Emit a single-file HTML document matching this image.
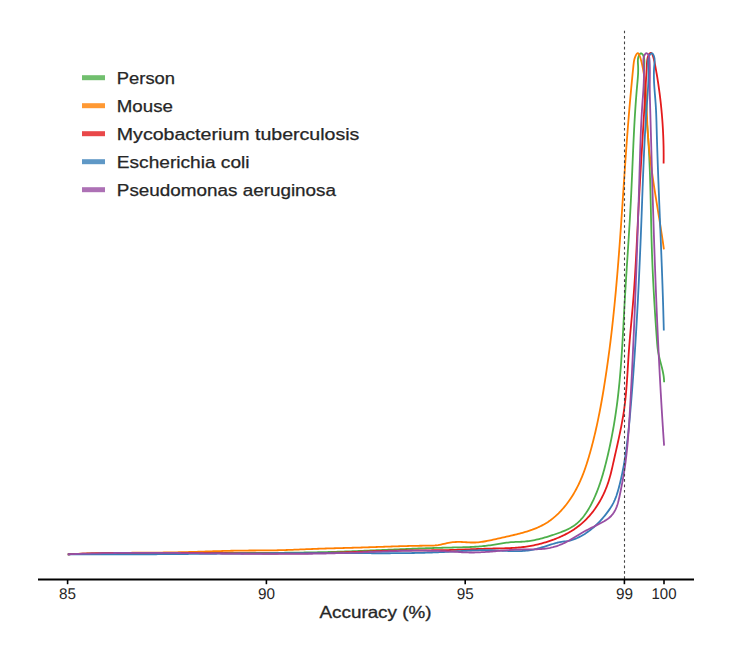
<!DOCTYPE html>
<html><head><meta charset="utf-8"><style>
html,body{margin:0;padding:0;background:#fff;}
body{width:738px;height:646px;overflow:hidden;}
svg{display:block;}
.lg{font-family:"Liberation Sans",sans-serif;font-size:16px;fill:#262626;stroke:#262626;stroke-width:0.25px;}
.tk{text-rendering:geometricPrecision;font-family:"Liberation Sans",sans-serif;font-size:15.5px;fill:#262626;}
.ax{font-family:"Liberation Sans",sans-serif;font-size:16.5px;fill:#262626;stroke:#262626;stroke-width:0.3px;}
</style></head><body>
<svg width="738" height="646" viewBox="0 0 738 646">
<g fill="none" stroke-width="1.8" stroke-linejoin="round" stroke-linecap="butt">
<path d="M67.80 554.30 L69.30 554.25 L70.79 554.20 L72.28 554.16 L73.78 554.11 L75.27 554.07 L76.77 554.03 L78.26 553.99 L79.76 553.94 L81.25 553.90 L82.75 553.87 L84.24 553.83 L85.74 553.79 L87.23 553.76 L88.73 553.72 L90.22 553.69 L91.72 553.65 L93.21 553.62 L94.71 553.59 L96.20 553.56 L97.70 553.53 L99.20 553.50 L100.69 553.48 L102.19 553.45 L103.68 553.42 L105.18 553.40 L106.68 553.37 L108.17 553.35 L109.67 553.33 L111.16 553.31 L112.66 553.29 L114.16 553.26 L115.65 553.25 L117.15 553.23 L118.65 553.21 L120.15 553.19 L121.64 553.17 L123.14 553.16 L124.64 553.14 L126.13 553.13 L127.63 553.11 L129.13 553.10 L130.63 553.09 L132.12 553.08 L133.62 553.06 L135.12 553.05 L136.62 553.04 L138.11 553.03 L139.61 553.02 L141.11 553.01 L142.61 553.01 L144.10 553.00 L145.60 552.99 L147.10 552.98 L148.60 552.98 L150.10 552.97 L151.59 552.97 L153.09 552.96 L154.59 552.96 L156.09 552.95 L157.59 552.95 L159.09 552.94 L160.58 552.94 L162.08 552.94 L163.58 552.94 L165.08 552.93 L166.58 552.93 L168.08 552.93 L169.58 552.93 L171.08 552.93 L172.57 552.93 L174.07 552.93 L175.57 552.93 L177.07 552.93 L178.57 552.93 L180.07 552.93 L181.57 552.93 L183.07 552.93 L184.57 552.93 L186.07 552.93 L187.56 552.94 L189.06 552.94 L190.56 552.94 L192.06 552.94 L193.56 552.94 L195.06 552.94 L196.56 552.95 L198.06 552.95 L199.56 552.95 L201.06 552.95 L202.56 552.96 L204.06 552.96 L205.56 552.96 L207.06 552.96 L208.56 552.97 L210.06 552.97 L211.56 552.97 L213.06 552.97 L214.56 552.97 L216.06 552.98 L217.56 552.98 L219.06 552.98 L220.56 552.98 L222.06 552.98 L223.56 552.99 L225.06 552.99 L226.55 552.99 L228.05 552.99 L229.55 552.99 L231.05 552.99 L232.55 552.99 L234.05 552.99 L235.55 552.99 L237.05 552.99 L238.55 552.99 L240.05 552.99 L241.55 552.99 L243.05 552.99 L244.55 552.98 L246.05 552.98 L247.55 552.98 L249.05 552.98 L250.55 552.97 L252.05 552.97 L253.55 552.97 L255.05 552.96 L256.55 552.96 L258.05 552.95 L259.55 552.95 L261.05 552.94 L262.55 552.93 L264.06 552.93 L265.56 552.92 L267.06 552.91 L268.56 552.90 L270.06 552.89 L271.56 552.88 L273.06 552.87 L274.56 552.86 L276.06 552.85 L277.55 552.84 L279.05 552.83 L280.55 552.81 L282.05 552.80 L283.55 552.79 L285.05 552.77 L286.55 552.76 L288.05 552.74 L289.55 552.72 L291.05 552.70 L292.55 552.69 L294.05 552.67 L295.55 552.65 L297.05 552.63 L298.55 552.61 L300.05 552.58 L301.55 552.56 L303.05 552.54 L304.55 552.51 L306.05 552.49 L307.55 552.46 L309.05 552.43 L310.55 552.41 L312.05 552.38 L313.55 552.35 L315.05 552.32 L316.55 552.29 L318.05 552.25 L319.55 552.22 L321.05 552.19 L322.55 552.15 L324.04 552.12 L325.54 552.08 L327.04 552.04 L328.54 552.00 L330.04 551.96 L331.54 551.92 L333.04 551.88 L334.54 551.83 L336.04 551.79 L337.54 551.74 L339.04 551.70 L340.53 551.65 L342.03 551.60 L343.53 551.55 L345.03 551.50 L346.53 551.45 L348.03 551.40 L349.53 551.34 L351.02 551.29 L352.52 551.23 L354.02 551.18 L355.52 551.12 L357.02 551.06 L358.52 551.01 L360.01 550.95 L361.51 550.89 L363.01 550.83 L364.51 550.77 L366.01 550.71 L367.50 550.64 L369.00 550.58 L370.50 550.52 L372.00 550.46 L373.50 550.39 L374.99 550.33 L376.49 550.26 L377.99 550.20 L379.49 550.14 L380.98 550.07 L382.48 550.01 L383.98 549.94 L385.48 549.88 L386.97 549.81 L388.47 549.75 L389.97 549.68 L391.46 549.62 L392.96 549.56 L394.46 549.49 L395.95 549.43 L397.45 549.36 L398.95 549.30 L400.44 549.24 L401.94 549.17 L403.44 549.11 L404.93 549.05 L406.43 548.99 L407.92 548.93 L409.42 548.87 L410.92 548.81 L412.41 548.75 L413.91 548.69 L415.40 548.63 L416.90 548.57 L418.40 548.52 L419.89 548.46 L421.39 548.41 L422.88 548.35 L424.38 548.30 L425.87 548.25 L427.37 548.19 L428.86 548.14 L430.36 548.09 L431.85 548.05 L433.35 548.00 L434.84 547.95 L436.34 547.91 L437.83 547.86 L439.32 547.82 L440.82 547.78 L442.31 547.74 L443.81 547.70 L445.30 547.67 L446.79 547.63 L448.29 547.60 L449.78 547.56 L451.28 547.53 L452.77 547.50 L454.26 547.47 L455.76 547.44 L457.25 547.41 L458.74 547.38 L460.23 547.35 L461.73 547.31 L463.22 547.27 L464.71 547.22 L466.21 547.17 L467.70 547.12 L469.19 547.06 L470.68 546.99 L472.17 546.92 L473.67 546.84 L475.16 546.75 L476.65 546.65 L478.14 546.55 L479.63 546.43 L481.12 546.30 L482.62 546.16 L484.11 546.01 L485.60 545.84 L487.09 545.66 L488.58 545.47 L490.07 545.27 L491.56 545.05 L493.05 544.81 L494.54 544.57 L496.03 544.33 L497.52 544.08 L499.01 543.83 L500.50 543.58 L501.99 543.35 L503.48 543.12 L504.97 542.90 L506.46 542.70 L507.95 542.52 L509.44 542.36 L510.93 542.22 L512.42 542.11 L513.91 542.03 L515.39 541.97 L516.88 541.92 L518.37 541.87 L519.86 541.82 L521.35 541.76 L522.83 541.67 L524.32 541.56 L525.81 541.42 L527.30 541.25 L528.78 541.05 L530.27 540.83 L531.75 540.58 L533.23 540.31 L534.71 540.02 L536.19 539.71 L537.67 539.37 L539.14 539.02 L540.61 538.65 L542.08 538.27 L543.55 537.87 L545.01 537.46 L546.47 537.03 L547.92 536.59 L549.38 536.14 L550.82 535.68 L552.27 535.21 L553.70 534.74 L555.14 534.26 L556.56 533.77 L557.98 533.27 L559.40 532.77 L560.80 532.25 L562.19 531.71 L563.56 531.16 L564.92 530.58 L566.27 529.98 L567.59 529.36 L568.89 528.70 L570.17 528.02 L571.43 527.30 L572.66 526.54 L573.87 525.74 L575.04 524.90 L576.19 524.02 L577.30 523.09 L578.38 522.12 L579.43 521.11 L580.46 520.06 L581.45 518.97 L582.42 517.85 L583.36 516.70 L584.28 515.52 L585.16 514.31 L586.03 513.08 L586.87 511.82 L587.69 510.54 L588.48 509.24 L589.25 507.92 L590.00 506.59 L590.73 505.24 L591.44 503.88 L592.13 502.52 L592.81 501.14 L593.46 499.76 L594.10 498.38 L594.72 497.00 L595.33 495.61 L595.92 494.22 L596.49 492.82 L597.05 491.43 L597.60 490.03 L598.13 488.62 L598.65 487.22 L599.15 485.81 L599.65 484.40 L600.13 482.99 L600.60 481.57 L601.06 480.15 L601.51 478.73 L601.95 477.31 L602.38 475.88 L602.80 474.45 L603.21 473.02 L603.62 471.59 L604.02 470.15 L604.41 468.72 L604.79 467.28 L605.17 465.83 L605.54 464.39 L605.91 462.95 L606.27 461.50 L606.63 460.05 L606.98 458.60 L607.33 457.14 L607.68 455.69 L608.02 454.23 L608.36 452.77 L608.69 451.31 L609.01 449.85 L609.34 448.39 L609.66 446.92 L609.97 445.46 L610.28 443.99 L610.59 442.52 L610.89 441.05 L611.18 439.58 L611.48 438.11 L611.76 436.63 L612.05 435.16 L612.33 433.68 L612.60 432.21 L612.87 430.73 L613.14 429.25 L613.40 427.77 L613.66 426.29 L613.92 424.81 L614.17 423.33 L614.41 421.85 L614.65 420.37 L614.89 418.88 L615.12 417.40 L615.35 415.91 L615.57 414.43 L615.79 412.95 L616.01 411.46 L616.22 409.97 L616.43 408.49 L616.63 407.00 L616.83 405.52 L617.02 404.03 L617.22 402.55 L617.40 401.06 L617.59 399.57 L617.77 398.09 L617.94 396.60 L618.11 395.11 L618.28 393.62 L618.45 392.14 L618.61 390.65 L618.77 389.16 L618.93 387.67 L619.08 386.19 L619.23 384.70 L619.37 383.21 L619.52 381.72 L619.66 380.23 L619.79 378.74 L619.93 377.25 L620.06 375.76 L620.19 374.28 L620.32 372.79 L620.44 371.30 L620.56 369.81 L620.68 368.32 L620.80 366.83 L620.91 365.34 L621.03 363.85 L621.14 362.35 L621.25 360.86 L621.35 359.37 L621.46 357.88 L621.56 356.39 L621.66 354.90 L621.76 353.41 L621.86 351.92 L621.96 350.43 L622.05 348.93 L622.14 347.44 L622.24 345.95 L622.33 344.46 L622.42 342.96 L622.51 341.47 L622.59 339.98 L622.68 338.49 L622.77 336.99 L622.85 335.50 L622.94 334.01 L623.02 332.52 L623.10 331.02 L623.18 329.53 L623.26 328.03 L623.35 326.54 L623.43 325.05 L623.51 323.55 L623.59 322.06 L623.67 320.57 L623.75 319.07 L623.83 317.58 L623.91 316.08 L623.99 314.59 L624.07 313.09 L624.15 311.60 L624.23 310.10 L624.31 308.61 L624.39 307.11 L624.48 305.62 L624.56 304.12 L624.64 302.63 L624.73 301.13 L624.81 299.64 L624.90 298.14 L624.98 296.65 L625.07 295.15 L625.16 293.66 L625.25 292.16 L625.34 290.66 L625.43 289.17 L625.52 287.67 L625.61 286.17 L625.70 284.68 L625.79 283.18 L625.89 281.69 L625.98 280.19 L626.08 278.69 L626.17 277.20 L626.26 275.70 L626.36 274.20 L626.46 272.71 L626.55 271.21 L626.65 269.71 L626.74 268.21 L626.84 266.72 L626.94 265.22 L627.03 263.72 L627.13 262.23 L627.23 260.73 L627.33 259.23 L627.42 257.73 L627.52 256.24 L627.62 254.74 L627.72 253.24 L627.81 251.74 L627.91 250.25 L628.01 248.75 L628.10 247.25 L628.20 245.75 L628.30 244.25 L628.39 242.76 L628.49 241.26 L628.58 239.76 L628.68 238.26 L628.77 236.76 L628.87 235.27 L628.96 233.77 L629.06 232.27 L629.15 230.77 L629.24 229.27 L629.33 227.78 L629.43 226.28 L629.52 224.78 L629.61 223.28 L629.70 221.78 L629.79 220.28 L629.87 218.79 L629.96 217.29 L630.05 215.79 L630.13 214.29 L630.22 212.79 L630.30 211.29 L630.39 209.80 L630.47 208.30 L630.55 206.80 L630.63 205.30 L630.71 203.80 L630.79 202.30 L630.87 200.80 L630.94 199.31 L631.02 197.81 L631.09 196.31 L631.17 194.81 L631.24 193.31 L631.31 191.81 L631.38 190.31 L631.45 188.82 L631.52 187.32 L631.59 185.82 L631.65 184.32 L631.72 182.82 L631.79 181.32 L631.85 179.83 L631.92 178.33 L631.99 176.83 L632.05 175.33 L632.11 173.84 L632.18 172.34 L632.24 170.84 L632.31 169.34 L632.37 167.85 L632.43 166.35 L632.50 164.85 L632.56 163.35 L632.62 161.86 L632.69 160.36 L632.75 158.86 L632.82 157.37 L632.88 155.87 L632.95 154.38 L633.01 152.88 L633.08 151.38 L633.14 149.89 L633.21 148.39 L633.28 146.90 L633.34 145.40 L633.41 143.91 L633.48 142.41 L633.55 140.92 L633.62 139.43 L633.69 137.93 L633.77 136.44 L633.84 134.95 L633.91 133.45 L633.99 131.96 L634.07 130.47 L634.14 128.97 L634.22 127.48 L634.30 125.99 L634.38 124.50 L634.47 123.01 L634.55 121.52 L634.64 120.03 L634.72 118.54 L634.81 117.05 L634.90 115.56 L634.99 114.07 L635.09 112.58 L635.18 111.09 L635.28 109.60 L635.38 108.11 L635.48 106.62 L635.58 105.14 L635.69 103.65 L635.79 102.16 L635.90 100.68 L636.01 99.19 L636.13 97.71 L636.24 96.22 L636.36 94.74 L636.48 93.25 L636.60 91.77 L636.72 90.29 L636.85 88.80 L636.98 87.32 L637.11 85.84 L637.25 84.36 L637.38 82.87 L637.52 81.39 L637.65 79.91 L637.77 78.43 L637.88 76.94 L637.98 75.45 L638.06 73.96 L638.12 72.47 L638.16 70.97 L638.17 69.46 L638.16 67.96 L638.12 66.44 L638.04 64.93 L637.94 63.40 L637.87 61.87 L637.87 60.33 L638.00 58.78 L638.30 57.23 L638.81 55.67 L639.53 54.31 L640.46 53.47 L641.48 53.42 L642.40 54.12 L643.16 55.32 L643.73 56.78 L644.10 58.27 L644.30 59.78 L644.37 61.29 L644.36 62.80 L644.30 64.32 L644.22 65.83 L644.16 67.34 L644.11 68.86 L644.07 70.37 L644.04 71.87 L644.02 73.38 L644.01 74.89 L644.02 76.39 L644.03 77.89 L644.05 79.40 L644.07 80.90 L644.11 82.40 L644.15 83.89 L644.21 85.39 L644.26 86.89 L644.33 88.38 L644.40 89.88 L644.48 91.37 L644.56 92.86 L644.65 94.36 L644.75 95.85 L644.85 97.34 L644.95 98.83 L645.06 100.32 L645.17 101.81 L645.29 103.29 L645.41 104.78 L645.53 106.27 L645.66 107.76 L645.78 109.24 L645.91 110.73 L646.04 112.21 L646.17 113.70 L646.30 115.19 L646.43 116.67 L646.56 118.16 L646.69 119.64 L646.82 121.13 L646.95 122.62 L647.08 124.10 L647.21 125.59 L647.33 127.08 L647.45 128.56 L647.57 130.05 L647.69 131.54 L647.80 133.03 L647.91 134.51 L648.02 136.00 L648.12 137.49 L648.23 138.98 L648.32 140.47 L648.42 141.96 L648.51 143.45 L648.60 144.94 L648.69 146.43 L648.78 147.93 L648.86 149.42 L648.94 150.91 L649.02 152.40 L649.10 153.90 L649.17 155.39 L649.25 156.88 L649.32 158.38 L649.38 159.87 L649.45 161.37 L649.51 162.86 L649.58 164.36 L649.64 165.85 L649.70 167.35 L649.75 168.84 L649.81 170.34 L649.86 171.83 L649.92 173.33 L649.97 174.83 L650.02 176.32 L650.06 177.82 L650.11 179.32 L650.16 180.82 L650.20 182.31 L650.24 183.81 L650.29 185.31 L650.33 186.81 L650.37 188.31 L650.41 189.80 L650.45 191.30 L650.48 192.80 L650.52 194.30 L650.56 195.80 L650.59 197.30 L650.63 198.80 L650.66 200.30 L650.70 201.80 L650.73 203.30 L650.76 204.80 L650.80 206.30 L650.83 207.80 L650.86 209.30 L650.89 210.80 L650.93 212.30 L650.96 213.80 L650.99 215.30 L651.02 216.80 L651.06 218.30 L651.09 219.80 L651.12 221.30 L651.16 222.80 L651.19 224.30 L651.23 225.80 L651.26 227.31 L651.30 228.81 L651.33 230.31 L651.37 231.81 L651.41 233.31 L651.44 234.81 L651.48 236.31 L651.52 237.81 L651.56 239.31 L651.60 240.81 L651.65 242.31 L651.69 243.82 L651.74 245.32 L651.78 246.82 L651.83 248.32 L651.88 249.82 L651.93 251.32 L651.98 252.82 L652.03 254.32 L652.09 255.82 L652.14 257.32 L652.20 258.82 L652.26 260.32 L652.32 261.82 L652.38 263.32 L652.44 264.82 L652.50 266.32 L652.57 267.82 L652.63 269.32 L652.70 270.81 L652.77 272.31 L652.84 273.81 L652.91 275.31 L652.98 276.81 L653.05 278.31 L653.13 279.80 L653.20 281.30 L653.28 282.80 L653.36 284.30 L653.43 285.79 L653.51 287.29 L653.59 288.79 L653.67 290.28 L653.76 291.78 L653.84 293.27 L653.93 294.77 L654.01 296.26 L654.10 297.76 L654.18 299.25 L654.27 300.75 L654.36 302.24 L654.45 303.74 L654.54 305.23 L654.64 306.72 L654.73 308.22 L654.82 309.71 L654.92 311.20 L655.01 312.69 L655.11 314.18 L655.20 315.67 L655.30 317.17 L655.40 318.66 L655.50 320.15 L655.60 321.64 L655.70 323.12 L655.80 324.61 L655.90 326.10 L656.01 327.59 L656.11 329.08 L656.21 330.56 L656.32 332.05 L656.42 333.54 L656.53 335.02 L656.64 336.51 L656.74 337.99 L656.85 339.48 L656.96 340.96 L657.07 342.45 L657.19 343.93 L657.33 345.41 L657.47 346.89 L657.64 348.38 L657.84 349.86 L658.06 351.34 L658.32 352.82 L658.61 354.30 L658.92 355.78 L659.26 357.25 L659.62 358.73 L659.99 360.21 L660.37 361.69 L660.76 363.16 L661.14 364.64 L661.52 366.11 L661.90 367.59 L662.25 369.06 L662.59 370.54 L662.91 372.01 L663.20 373.48 L663.46 374.95 L663.68 376.42 L663.86 377.89 L663.99 379.36 L664.07 380.83 L664.10 382.30" stroke="#4daf4a"/>
<path d="M67.80 554.30 L69.30 554.22 L70.80 554.14 L72.30 554.07 L73.79 554.00 L75.29 553.93 L76.79 553.87 L78.29 553.81 L79.79 553.75 L81.29 553.69 L82.78 553.63 L84.28 553.58 L85.78 553.53 L87.28 553.48 L88.78 553.44 L90.28 553.39 L91.78 553.35 L93.27 553.31 L94.77 553.28 L96.27 553.24 L97.77 553.21 L99.27 553.17 L100.77 553.14 L102.27 553.11 L103.77 553.09 L105.27 553.06 L106.76 553.04 L108.26 553.01 L109.76 552.99 L111.26 552.97 L112.76 552.95 L114.26 552.93 L115.76 552.91 L117.26 552.90 L118.76 552.88 L120.26 552.87 L121.75 552.85 L123.25 552.84 L124.75 552.83 L126.25 552.82 L127.75 552.80 L129.25 552.79 L130.75 552.78 L132.25 552.77 L133.75 552.76 L135.25 552.75 L136.75 552.74 L138.25 552.73 L139.75 552.72 L141.24 552.72 L142.74 552.71 L144.24 552.70 L145.74 552.69 L147.24 552.68 L148.74 552.66 L150.24 552.65 L151.74 552.64 L153.24 552.63 L154.74 552.62 L156.24 552.60 L157.74 552.59 L159.24 552.57 L160.74 552.56 L162.24 552.54 L163.74 552.52 L165.24 552.50 L166.74 552.48 L168.24 552.46 L169.74 552.44 L171.23 552.42 L172.73 552.39 L174.23 552.36 L175.73 552.34 L177.23 552.31 L178.73 552.27 L180.23 552.24 L181.73 552.21 L183.23 552.17 L184.73 552.13 L186.23 552.09 L187.73 552.05 L189.23 552.01 L190.73 551.97 L192.23 551.92 L193.73 551.88 L195.23 551.83 L196.73 551.79 L198.23 551.74 L199.73 551.69 L201.23 551.64 L202.73 551.60 L204.23 551.55 L205.73 551.50 L207.23 551.45 L208.73 551.40 L210.23 551.35 L211.73 551.31 L213.23 551.26 L214.73 551.21 L216.23 551.17 L217.73 551.12 L219.22 551.08 L220.72 551.03 L222.22 550.99 L223.72 550.95 L225.22 550.91 L226.72 550.87 L228.22 550.83 L229.72 550.80 L231.22 550.76 L232.72 550.73 L234.22 550.70 L235.72 550.67 L237.22 550.65 L238.72 550.62 L240.22 550.60 L241.72 550.58 L243.22 550.57 L244.72 550.55 L246.22 550.54 L247.72 550.53 L249.22 550.52 L250.72 550.51 L252.22 550.50 L253.72 550.49 L255.22 550.48 L256.72 550.47 L258.22 550.47 L259.72 550.46 L261.21 550.45 L262.71 550.44 L264.21 550.43 L265.71 550.42 L267.21 550.40 L268.71 550.39 L270.21 550.37 L271.71 550.35 L273.21 550.33 L274.71 550.31 L276.21 550.28 L277.71 550.25 L279.21 550.22 L280.71 550.18 L282.21 550.14 L283.71 550.10 L285.21 550.05 L286.70 550.00 L288.20 549.95 L289.70 549.89 L291.20 549.84 L292.70 549.78 L294.20 549.72 L295.70 549.66 L297.20 549.60 L298.70 549.54 L300.20 549.47 L301.70 549.41 L303.20 549.35 L304.69 549.28 L306.19 549.22 L307.69 549.16 L309.19 549.10 L310.69 549.04 L312.19 548.98 L313.69 548.93 L315.19 548.87 L316.69 548.82 L318.19 548.77 L319.68 548.71 L321.18 548.66 L322.68 548.61 L324.18 548.57 L325.68 548.52 L327.18 548.47 L328.68 548.43 L330.17 548.38 L331.67 548.34 L333.17 548.29 L334.67 548.25 L336.17 548.21 L337.67 548.16 L339.17 548.12 L340.66 548.08 L342.16 548.04 L343.66 548.00 L345.16 547.95 L346.66 547.91 L348.16 547.87 L349.65 547.83 L351.15 547.79 L352.65 547.75 L354.15 547.71 L355.65 547.66 L357.14 547.62 L358.64 547.58 L360.14 547.54 L361.64 547.49 L363.14 547.45 L364.63 547.40 L366.13 547.36 L367.63 547.31 L369.13 547.27 L370.63 547.22 L372.12 547.17 L373.62 547.12 L375.12 547.07 L376.62 547.02 L378.11 546.97 L379.61 546.92 L381.11 546.87 L382.61 546.81 L384.10 546.76 L385.60 546.71 L387.10 546.66 L388.60 546.61 L390.09 546.56 L391.59 546.51 L393.09 546.46 L394.58 546.41 L396.08 546.36 L397.58 546.31 L399.07 546.26 L400.57 546.22 L402.07 546.17 L403.56 546.13 L405.06 546.09 L406.55 546.05 L408.05 546.01 L409.55 545.97 L411.04 545.93 L412.54 545.90 L414.03 545.87 L415.53 545.83 L417.02 545.81 L418.52 545.78 L420.01 545.76 L421.51 545.73 L423.00 545.72 L424.50 545.70 L425.99 545.69 L427.49 545.67 L428.98 545.66 L430.48 545.64 L431.97 545.60 L433.46 545.53 L434.96 545.42 L436.45 545.27 L437.94 545.06 L439.44 544.80 L440.93 544.51 L442.42 544.19 L443.92 543.85 L445.41 543.52 L446.90 543.19 L448.39 542.89 L449.88 542.62 L451.38 542.39 L452.87 542.22 L454.36 542.08 L455.85 541.99 L457.34 541.94 L458.83 541.92 L460.32 541.94 L461.81 541.99 L463.30 542.07 L464.79 542.16 L466.28 542.25 L467.77 542.35 L469.26 542.43 L470.75 542.49 L472.24 542.52 L473.73 542.52 L475.22 542.48 L476.70 542.39 L478.19 542.28 L479.68 542.13 L481.17 541.95 L482.65 541.74 L484.14 541.51 L485.63 541.25 L487.11 540.98 L488.60 540.68 L490.09 540.38 L491.57 540.06 L493.06 539.72 L494.54 539.39 L496.03 539.04 L497.51 538.70 L499.00 538.35 L500.48 538.01 L501.96 537.67 L503.45 537.34 L504.93 537.01 L506.41 536.68 L507.89 536.34 L509.36 536.01 L510.83 535.68 L512.30 535.34 L513.77 535.00 L515.23 534.65 L516.69 534.30 L518.14 533.94 L519.59 533.57 L521.03 533.19 L522.47 532.80 L523.90 532.40 L525.32 531.98 L526.74 531.55 L528.14 531.11 L529.54 530.65 L530.93 530.17 L532.32 529.68 L533.69 529.16 L535.05 528.63 L536.41 528.07 L537.75 527.49 L539.08 526.89 L540.40 526.26 L541.71 525.60 L543.01 524.92 L544.29 524.21 L545.56 523.47 L546.82 522.71 L548.06 521.91 L549.29 521.07 L550.51 520.21 L551.71 519.31 L552.89 518.37 L554.06 517.41 L555.22 516.42 L556.35 515.40 L557.47 514.35 L558.58 513.28 L559.66 512.18 L560.73 511.06 L561.77 509.93 L562.80 508.77 L563.81 507.59 L564.80 506.40 L565.77 505.20 L566.72 503.98 L567.65 502.75 L568.55 501.51 L569.44 500.26 L570.30 499.01 L571.14 497.75 L571.96 496.48 L572.76 495.21 L573.53 493.93 L574.29 492.64 L575.03 491.35 L575.75 490.05 L576.45 488.75 L577.13 487.44 L577.79 486.13 L578.44 484.81 L579.07 483.49 L579.69 482.16 L580.29 480.82 L580.87 479.48 L581.44 478.14 L582.00 476.79 L582.55 475.43 L583.08 474.07 L583.60 472.71 L584.11 471.34 L584.61 469.97 L585.09 468.59 L585.57 467.21 L586.04 465.82 L586.50 464.43 L586.95 463.04 L587.39 461.64 L587.83 460.24 L588.26 458.83 L588.68 457.42 L589.10 456.00 L589.51 454.59 L589.92 453.16 L590.32 451.74 L590.72 450.31 L591.11 448.88 L591.50 447.44 L591.88 446.01 L592.26 444.56 L592.64 443.12 L593.01 441.67 L593.37 440.22 L593.73 438.77 L594.09 437.31 L594.44 435.85 L594.79 434.39 L595.14 432.93 L595.48 431.46 L595.81 429.99 L596.15 428.52 L596.48 427.05 L596.80 425.57 L597.12 424.10 L597.44 422.62 L597.75 421.14 L598.06 419.65 L598.37 418.17 L598.67 416.68 L598.97 415.19 L599.27 413.70 L599.56 412.21 L599.85 410.72 L600.13 409.23 L600.42 407.73 L600.70 406.24 L600.97 404.74 L601.25 403.24 L601.52 401.75 L601.78 400.25 L602.05 398.75 L602.31 397.25 L602.57 395.74 L602.83 394.24 L603.08 392.74 L603.33 391.24 L603.58 389.74 L603.83 388.23 L604.07 386.73 L604.31 385.23 L604.55 383.73 L604.79 382.22 L605.02 380.72 L605.25 379.22 L605.49 377.72 L605.71 376.22 L605.94 374.72 L606.16 373.22 L606.39 371.71 L606.61 370.22 L606.82 368.72 L607.04 367.22 L607.25 365.72 L607.47 364.22 L607.68 362.72 L607.89 361.22 L608.09 359.73 L608.30 358.23 L608.50 356.73 L608.70 355.23 L608.90 353.74 L609.10 352.24 L609.29 350.75 L609.49 349.25 L609.68 347.75 L609.87 346.26 L610.06 344.76 L610.24 343.27 L610.43 341.78 L610.61 340.28 L610.79 338.79 L610.97 337.29 L611.15 335.80 L611.33 334.31 L611.50 332.81 L611.67 331.32 L611.85 329.83 L612.02 328.34 L612.19 326.84 L612.35 325.35 L612.52 323.86 L612.68 322.37 L612.85 320.88 L613.01 319.39 L613.17 317.90 L613.32 316.40 L613.48 314.91 L613.64 313.42 L613.79 311.93 L613.95 310.44 L614.10 308.95 L614.25 307.46 L614.40 305.97 L614.54 304.48 L614.69 302.99 L614.84 301.51 L614.98 300.02 L615.12 298.53 L615.26 297.04 L615.40 295.55 L615.54 294.06 L615.68 292.57 L615.82 291.08 L615.96 289.60 L616.09 288.11 L616.22 286.62 L616.36 285.13 L616.49 283.64 L616.62 282.15 L616.75 280.67 L616.88 279.18 L617.01 277.69 L617.13 276.20 L617.26 274.72 L617.38 273.23 L617.51 271.74 L617.63 270.25 L617.75 268.77 L617.87 267.28 L617.99 265.79 L618.11 264.30 L618.23 262.82 L618.35 261.33 L618.47 259.84 L618.58 258.35 L618.70 256.87 L618.82 255.38 L618.93 253.89 L619.04 252.40 L619.16 250.92 L619.27 249.43 L619.38 247.94 L619.49 246.45 L619.60 244.97 L619.71 243.48 L619.82 241.99 L619.93 240.50 L620.04 239.02 L620.15 237.53 L620.25 236.04 L620.36 234.55 L620.47 233.07 L620.57 231.58 L620.68 230.09 L620.78 228.60 L620.89 227.11 L620.99 225.62 L621.10 224.14 L621.20 222.65 L621.31 221.16 L621.41 219.67 L621.51 218.18 L621.61 216.69 L621.72 215.20 L621.82 213.71 L621.92 212.23 L622.02 210.74 L622.12 209.25 L622.22 207.76 L622.32 206.27 L622.43 204.78 L622.53 203.29 L622.63 201.80 L622.73 200.31 L622.83 198.82 L622.93 197.32 L623.03 195.83 L623.13 194.34 L623.23 192.85 L623.33 191.36 L623.43 189.87 L623.53 188.38 L623.63 186.88 L623.73 185.39 L623.83 183.90 L623.93 182.41 L624.03 180.91 L624.14 179.42 L624.24 177.93 L624.34 176.43 L624.44 174.94 L624.54 173.44 L624.64 171.95 L624.75 170.46 L624.85 168.96 L624.95 167.47 L625.06 165.97 L625.16 164.47 L625.26 162.98 L625.37 161.48 L625.47 159.99 L625.58 158.49 L625.68 156.99 L625.79 155.49 L625.89 154.00 L626.00 152.50 L626.11 151.00 L626.22 149.50 L626.32 148.00 L626.43 146.50 L626.54 145.00 L626.65 143.50 L626.76 142.00 L626.87 140.50 L626.98 139.00 L627.10 137.50 L627.21 136.00 L627.32 134.50 L627.44 132.99 L627.55 131.49 L627.67 129.99 L627.78 128.49 L627.90 126.98 L628.02 125.48 L628.14 123.97 L628.26 122.47 L628.38 120.96 L628.50 119.46 L628.62 117.95 L628.74 116.44 L628.87 114.94 L628.99 113.43 L629.12 111.92 L629.24 110.41 L629.37 108.91 L629.50 107.40 L629.63 105.89 L629.76 104.38 L629.89 102.87 L630.02 101.36 L630.16 99.85 L630.29 98.34 L630.43 96.83 L630.56 95.32 L630.70 93.81 L630.84 92.30 L630.97 90.80 L631.11 89.30 L631.25 87.79 L631.39 86.30 L631.54 84.80 L631.68 83.30 L631.82 81.81 L631.96 80.32 L632.11 78.84 L632.25 77.36 L632.40 75.88 L632.54 74.41 L632.69 72.94 L632.83 71.47 L632.98 70.01 L633.13 68.56 L633.28 67.11 L633.42 65.66 L633.57 64.22 L633.74 62.78 L633.95 61.33 L634.25 59.85 L634.65 58.34 L635.19 56.78 L635.89 55.21 L636.70 53.88 L637.55 53.12 L638.39 53.44 L639.15 54.62 L639.78 56.02 L640.29 57.46 L640.72 58.93 L641.11 60.41 L641.47 61.89 L641.83 63.37 L642.16 64.86 L642.48 66.34 L642.78 67.82 L643.07 69.31 L643.34 70.79 L643.59 72.28 L643.83 73.77 L644.06 75.25 L644.28 76.74 L644.48 78.23 L644.67 79.72 L644.85 81.21 L645.02 82.70 L645.18 84.20 L645.33 85.69 L645.46 87.18 L645.59 88.67 L645.71 90.17 L645.83 91.66 L645.93 93.16 L646.03 94.65 L646.12 96.15 L646.21 97.64 L646.29 99.14 L646.37 100.63 L646.44 102.13 L646.50 103.62 L646.57 105.12 L646.63 106.62 L646.69 108.11 L646.75 109.61 L646.80 111.11 L646.86 112.60 L646.91 114.10 L646.97 115.60 L647.03 117.09 L647.08 118.59 L647.14 120.09 L647.20 121.58 L647.27 123.08 L647.34 124.57 L647.41 126.07 L647.49 127.56 L647.57 129.06 L647.65 130.55 L647.75 132.05 L647.84 133.54 L647.95 135.03 L648.05 136.53 L648.17 138.02 L648.29 139.51 L648.41 141.00 L648.54 142.50 L648.67 143.99 L648.81 145.48 L648.96 146.97 L649.10 148.46 L649.26 149.95 L649.41 151.44 L649.57 152.93 L649.74 154.42 L649.91 155.90 L650.08 157.39 L650.26 158.88 L650.44 160.37 L650.62 161.86 L650.81 163.34 L651.00 164.83 L651.19 166.32 L651.39 167.80 L651.59 169.29 L651.79 170.78 L652.00 172.26 L652.21 173.75 L652.42 175.23 L652.63 176.72 L652.85 178.20 L653.06 179.69 L653.28 181.17 L653.51 182.65 L653.73 184.14 L653.96 185.62 L654.18 187.11 L654.41 188.59 L654.64 190.07 L654.88 191.55 L655.11 193.04 L655.35 194.52 L655.58 196.00 L655.82 197.49 L656.06 198.97 L656.29 200.45 L656.53 201.93 L656.77 203.41 L657.01 204.89 L657.25 206.38 L657.50 207.86 L657.74 209.34 L657.98 210.82 L658.22 212.30 L658.46 213.78 L658.70 215.26 L658.94 216.74 L659.18 218.22 L659.42 219.70 L659.66 221.18 L659.89 222.66 L660.13 224.14 L660.37 225.62 L660.60 227.10 L660.83 228.58 L661.07 230.06 L661.30 231.54 L661.52 233.02 L661.75 234.50 L661.98 235.98 L662.20 237.46 L662.42 238.94 L662.64 240.42 L662.86 241.90 L663.07 243.38 L663.28 244.86 L663.49 246.34 L663.70 247.82 L663.90 249.30" stroke="#ff7f00"/>
<path d="M67.80 554.30 L69.30 554.24 L70.80 554.18 L72.29 554.12 L73.79 554.06 L75.29 554.01 L76.79 553.95 L78.28 553.90 L79.78 553.85 L81.28 553.80 L82.78 553.75 L84.28 553.70 L85.77 553.66 L87.27 553.62 L88.77 553.57 L90.27 553.53 L91.77 553.49 L93.27 553.45 L94.76 553.42 L96.26 553.38 L97.76 553.34 L99.26 553.31 L100.76 553.28 L102.26 553.25 L103.75 553.22 L105.25 553.19 L106.75 553.16 L108.25 553.13 L109.75 553.11 L111.25 553.09 L112.74 553.06 L114.24 553.04 L115.74 553.02 L117.24 553.00 L118.74 552.98 L120.24 552.96 L121.74 552.95 L123.24 552.93 L124.73 552.92 L126.23 552.90 L127.73 552.89 L129.23 552.88 L130.73 552.87 L132.23 552.86 L133.73 552.85 L135.23 552.84 L136.73 552.83 L138.23 552.82 L139.72 552.82 L141.22 552.81 L142.72 552.81 L144.22 552.80 L145.72 552.80 L147.22 552.80 L148.72 552.80 L150.22 552.80 L151.72 552.80 L153.22 552.80 L154.72 552.80 L156.22 552.80 L157.72 552.80 L159.22 552.80 L160.71 552.81 L162.21 552.81 L163.71 552.82 L165.21 552.82 L166.71 552.83 L168.21 552.83 L169.71 552.84 L171.21 552.85 L172.71 552.85 L174.21 552.86 L175.71 552.87 L177.21 552.88 L178.71 552.89 L180.21 552.90 L181.71 552.91 L183.21 552.92 L184.71 552.93 L186.21 552.94 L187.71 552.95 L189.21 552.96 L190.71 552.97 L192.21 552.98 L193.71 552.99 L195.21 553.01 L196.71 553.02 L198.21 553.03 L199.71 553.04 L201.21 553.06 L202.71 553.07 L204.21 553.08 L205.71 553.09 L207.21 553.11 L208.70 553.12 L210.20 553.13 L211.70 553.15 L213.20 553.16 L214.70 553.17 L216.20 553.19 L217.70 553.20 L219.20 553.21 L220.70 553.22 L222.20 553.24 L223.70 553.25 L225.20 553.26 L226.70 553.27 L228.20 553.29 L229.70 553.30 L231.20 553.31 L232.70 553.32 L234.20 553.33 L235.70 553.34 L237.20 553.35 L238.70 553.36 L240.20 553.37 L241.70 553.38 L243.20 553.39 L244.70 553.40 L246.20 553.41 L247.70 553.42 L249.20 553.43 L250.70 553.43 L252.20 553.44 L253.70 553.45 L255.20 553.45 L256.70 553.46 L258.20 553.46 L259.71 553.47 L261.21 553.47 L262.71 553.48 L264.21 553.48 L265.71 553.48 L267.21 553.48 L268.71 553.48 L270.21 553.48 L271.71 553.48 L273.21 553.48 L274.71 553.48 L276.21 553.48 L277.71 553.48 L279.21 553.47 L280.71 553.47 L282.21 553.46 L283.71 553.46 L285.21 553.45 L286.71 553.44 L288.21 553.43 L289.71 553.42 L291.21 553.41 L292.71 553.40 L294.21 553.39 L295.71 553.38 L297.20 553.36 L298.70 553.35 L300.20 553.33 L301.70 553.32 L303.20 553.30 L304.70 553.28 L306.20 553.26 L307.70 553.24 L309.20 553.22 L310.70 553.19 L312.20 553.17 L313.70 553.14 L315.20 553.12 L316.70 553.09 L318.20 553.06 L319.70 553.03 L321.20 553.00 L322.70 552.97 L324.20 552.93 L325.70 552.90 L327.20 552.86 L328.70 552.83 L330.20 552.79 L331.70 552.75 L333.20 552.71 L334.70 552.66 L336.20 552.62 L337.70 552.57 L339.20 552.53 L340.70 552.48 L342.20 552.43 L343.70 552.38 L345.20 552.33 L346.70 552.27 L348.19 552.22 L349.69 552.16 L351.19 552.11 L352.69 552.05 L354.19 551.99 L355.69 551.94 L357.19 551.88 L358.69 551.82 L360.19 551.76 L361.69 551.70 L363.19 551.64 L364.69 551.59 L366.19 551.53 L367.69 551.47 L369.18 551.41 L370.68 551.36 L372.18 551.30 L373.68 551.24 L375.18 551.19 L376.68 551.14 L378.18 551.08 L379.68 551.03 L381.18 550.98 L382.68 550.93 L384.17 550.89 L385.67 550.84 L387.17 550.80 L388.67 550.75 L390.17 550.71 L391.67 550.67 L393.17 550.64 L394.67 550.60 L396.16 550.57 L397.66 550.54 L399.16 550.51 L400.66 550.49 L402.16 550.47 L403.66 550.45 L405.16 550.43 L406.65 550.41 L408.15 550.40 L409.65 550.39 L411.15 550.38 L412.65 550.37 L414.15 550.36 L415.64 550.35 L417.14 550.34 L418.64 550.34 L420.14 550.33 L421.64 550.33 L423.14 550.32 L424.63 550.31 L426.13 550.31 L427.63 550.30 L429.13 550.29 L430.62 550.28 L432.12 550.27 L433.62 550.26 L435.12 550.25 L436.62 550.23 L438.11 550.22 L439.61 550.20 L441.11 550.18 L442.61 550.16 L444.10 550.13 L445.60 550.10 L447.10 550.07 L448.60 550.04 L450.09 550.00 L451.59 549.96 L453.09 549.92 L454.59 549.87 L456.08 549.82 L457.58 549.77 L459.08 549.71 L460.57 549.66 L462.07 549.60 L463.57 549.54 L465.07 549.48 L466.56 549.42 L468.06 549.36 L469.56 549.30 L471.05 549.24 L472.55 549.18 L474.05 549.12 L475.54 549.06 L477.04 549.00 L478.54 548.94 L480.03 548.89 L481.53 548.83 L483.03 548.78 L484.52 548.73 L486.02 548.69 L487.51 548.65 L489.01 548.61 L490.51 548.57 L492.00 548.54 L493.50 548.51 L494.99 548.48 L496.49 548.46 L497.99 548.43 L499.48 548.40 L500.98 548.37 L502.47 548.34 L503.97 548.30 L505.47 548.25 L506.96 548.21 L508.46 548.15 L509.95 548.08 L511.45 548.01 L512.94 547.93 L514.44 547.84 L515.93 547.73 L517.43 547.61 L518.92 547.48 L520.42 547.34 L521.91 547.17 L523.41 547.00 L524.90 546.80 L526.40 546.59 L527.89 546.36 L529.38 546.12 L530.87 545.85 L532.36 545.57 L533.85 545.28 L535.33 544.97 L536.81 544.64 L538.28 544.29 L539.75 543.93 L541.22 543.55 L542.68 543.15 L544.13 542.74 L545.58 542.31 L547.03 541.87 L548.46 541.41 L549.89 540.93 L551.32 540.43 L552.73 539.92 L554.14 539.40 L555.53 538.85 L556.92 538.29 L558.30 537.72 L559.67 537.13 L561.03 536.52 L562.38 535.89 L563.71 535.25 L565.04 534.59 L566.35 533.91 L567.65 533.22 L568.94 532.50 L570.22 531.75 L571.48 530.99 L572.72 530.20 L573.96 529.39 L575.18 528.56 L576.38 527.71 L577.57 526.83 L578.74 525.93 L579.90 525.01 L581.03 524.07 L582.16 523.10 L583.26 522.12 L584.35 521.12 L585.41 520.09 L586.46 519.04 L587.49 517.98 L588.50 516.89 L589.49 515.79 L590.46 514.67 L591.42 513.52 L592.35 512.36 L593.26 511.19 L594.15 510.00 L595.03 508.79 L595.88 507.56 L596.72 506.32 L597.53 505.06 L598.33 503.79 L599.10 502.51 L599.86 501.21 L600.60 499.90 L601.31 498.58 L602.01 497.25 L602.69 495.90 L603.35 494.54 L603.99 493.17 L604.61 491.80 L605.21 490.41 L605.79 489.02 L606.35 487.61 L606.89 486.20 L607.41 484.78 L607.91 483.35 L608.39 481.92 L608.85 480.48 L609.29 479.03 L609.72 477.58 L610.12 476.13 L610.51 474.67 L610.89 473.21 L611.25 471.74 L611.60 470.27 L611.95 468.80 L612.29 467.33 L612.62 465.86 L612.95 464.38 L613.28 462.91 L613.61 461.43 L613.94 459.96 L614.27 458.48 L614.61 457.01 L614.94 455.54 L615.28 454.07 L615.61 452.59 L615.94 451.12 L616.28 449.65 L616.61 448.18 L616.94 446.71 L617.27 445.23 L617.60 443.76 L617.92 442.29 L618.25 440.82 L618.57 439.35 L618.89 437.88 L619.20 436.41 L619.52 434.93 L619.83 433.46 L620.13 431.99 L620.43 430.52 L620.73 429.05 L621.02 427.58 L621.31 426.10 L621.59 424.63 L621.87 423.16 L622.14 421.69 L622.40 420.21 L622.66 418.74 L622.91 417.26 L623.16 415.79 L623.40 414.31 L623.63 412.84 L623.85 411.36 L624.06 409.89 L624.27 408.41 L624.47 406.93 L624.66 405.45 L624.85 403.97 L625.02 402.50 L625.19 401.02 L625.36 399.54 L625.51 398.05 L625.67 396.57 L625.81 395.09 L625.95 393.61 L626.09 392.13 L626.22 390.64 L626.34 389.16 L626.47 387.68 L626.58 386.19 L626.70 384.71 L626.81 383.22 L626.91 381.74 L627.02 380.25 L627.12 378.76 L627.22 377.28 L627.32 375.79 L627.41 374.30 L627.51 372.81 L627.60 371.32 L627.69 369.83 L627.78 368.34 L627.87 366.85 L627.97 365.36 L628.06 363.87 L628.15 362.38 L628.24 360.89 L628.33 359.40 L628.43 357.91 L628.52 356.42 L628.62 354.92 L628.72 353.43 L628.82 351.94 L628.93 350.44 L629.04 348.95 L629.15 347.46 L629.26 345.96 L629.38 344.47 L629.50 342.97 L629.62 341.48 L629.74 339.98 L629.87 338.49 L629.99 336.99 L630.12 335.49 L630.25 334.00 L630.38 332.50 L630.52 331.00 L630.65 329.51 L630.79 328.01 L630.92 326.51 L631.06 325.01 L631.19 323.52 L631.33 322.02 L631.47 320.52 L631.60 319.02 L631.74 317.52 L631.88 316.02 L632.01 314.52 L632.15 313.03 L632.28 311.53 L632.41 310.03 L632.55 308.53 L632.68 307.03 L632.81 305.53 L632.94 304.03 L633.06 302.53 L633.19 301.03 L633.31 299.53 L633.43 298.03 L633.55 296.53 L633.66 295.03 L633.78 293.53 L633.89 292.03 L634.00 290.53 L634.11 289.03 L634.22 287.52 L634.32 286.02 L634.43 284.52 L634.53 283.02 L634.63 281.52 L634.73 280.02 L634.83 278.52 L634.92 277.02 L635.02 275.52 L635.11 274.02 L635.20 272.52 L635.29 271.02 L635.38 269.52 L635.47 268.02 L635.55 266.52 L635.64 265.01 L635.73 263.51 L635.81 262.01 L635.89 260.51 L635.97 259.01 L636.05 257.51 L636.14 256.01 L636.21 254.51 L636.29 253.01 L636.37 251.51 L636.45 250.01 L636.53 248.51 L636.60 247.02 L636.68 245.52 L636.75 244.02 L636.83 242.52 L636.90 241.02 L636.98 239.52 L637.05 238.02 L637.12 236.52 L637.20 235.03 L637.27 233.53 L637.35 232.03 L637.42 230.53 L637.49 229.03 L637.57 227.54 L637.64 226.04 L637.71 224.54 L637.79 223.05 L637.86 221.55 L637.94 220.06 L638.01 218.56 L638.09 217.06 L638.16 215.57 L638.24 214.07 L638.31 212.58 L638.39 211.08 L638.47 209.59 L638.55 208.10 L638.63 206.60 L638.71 205.11 L638.78 203.62 L638.86 202.12 L638.94 200.63 L639.03 199.14 L639.11 197.64 L639.19 196.15 L639.27 194.66 L639.35 193.17 L639.43 191.67 L639.52 190.18 L639.60 188.69 L639.68 187.20 L639.77 185.71 L639.85 184.22 L639.94 182.72 L640.02 181.23 L640.11 179.74 L640.19 178.25 L640.28 176.76 L640.37 175.27 L640.45 173.78 L640.54 172.29 L640.63 170.80 L640.71 169.30 L640.80 167.81 L640.89 166.32 L640.98 164.83 L641.06 163.34 L641.15 161.85 L641.24 160.36 L641.33 158.87 L641.42 157.38 L641.51 155.88 L641.60 154.39 L641.68 152.90 L641.77 151.41 L641.86 149.92 L641.95 148.42 L642.04 146.93 L642.13 145.44 L642.22 143.95 L642.31 142.46 L642.40 140.96 L642.49 139.47 L642.58 137.98 L642.67 136.48 L642.76 134.99 L642.85 133.50 L642.94 132.00 L643.03 130.51 L643.12 129.01 L643.21 127.52 L643.30 126.02 L643.39 124.53 L643.48 123.03 L643.57 121.54 L643.66 120.04 L643.75 118.55 L643.84 117.05 L643.93 115.55 L644.02 114.05 L644.11 112.56 L644.20 111.06 L644.29 109.56 L644.38 108.06 L644.47 106.56 L644.56 105.06 L644.65 103.56 L644.73 102.06 L644.82 100.56 L644.91 99.06 L645.00 97.56 L645.09 96.06 L645.17 94.56 L645.26 93.05 L645.35 91.55 L645.44 90.05 L645.52 88.54 L645.61 87.04 L645.70 85.53 L645.78 84.02 L645.87 82.52 L645.95 81.01 L646.04 79.50 L646.12 78.00 L646.21 76.49 L646.29 74.98 L646.37 73.47 L646.46 71.96 L646.54 70.45 L646.62 68.94 L646.71 67.42 L646.79 65.91 L646.87 64.40 L646.96 62.89 L647.08 61.39 L647.25 59.91 L647.49 58.46 L647.84 57.05 L648.30 55.68 L648.92 54.38 L649.76 53.26 L650.88 52.87 L651.79 53.42 L652.48 54.64 L653.02 56.17 L653.48 57.74 L653.88 59.27 L654.24 60.77 L654.56 62.25 L654.85 63.72 L655.13 65.19 L655.41 66.66 L655.68 68.13 L655.94 69.60 L656.20 71.07 L656.46 72.54 L656.71 74.01 L656.96 75.48 L657.21 76.95 L657.44 78.43 L657.68 79.91 L657.91 81.38 L658.13 82.86 L658.36 84.34 L658.57 85.82 L658.78 87.30 L658.99 88.78 L659.20 90.26 L659.39 91.74 L659.59 93.22 L659.78 94.71 L659.96 96.19 L660.14 97.68 L660.32 99.16 L660.49 100.65 L660.66 102.13 L660.82 103.62 L660.98 105.11 L661.13 106.60 L661.28 108.09 L661.43 109.58 L661.57 111.07 L661.70 112.56 L661.84 114.05 L661.96 115.55 L662.08 117.04 L662.20 118.53 L662.31 120.03 L662.42 121.52 L662.53 123.02 L662.63 124.51 L662.72 126.01 L662.81 127.50 L662.90 129.00 L662.98 130.50 L663.05 131.99 L663.13 133.49 L663.19 134.99 L663.26 136.49 L663.31 137.99 L663.37 139.49 L663.42 140.99 L663.46 142.49 L663.50 143.99 L663.54 145.49 L663.57 146.99 L663.59 148.49 L663.61 149.99 L663.63 151.49 L663.64 152.99 L663.65 154.49 L663.65 155.99 L663.65 157.49 L663.65 158.99 L663.63 160.50 L663.62 162.00 L663.60 163.50" stroke="#e41a1c"/>
<path d="M67.80 554.30 L69.30 554.31 L70.80 554.32 L72.31 554.33 L73.81 554.34 L75.31 554.35 L76.81 554.36 L78.31 554.36 L79.82 554.37 L81.32 554.38 L82.82 554.38 L84.32 554.39 L85.82 554.40 L87.32 554.40 L88.83 554.40 L90.33 554.41 L91.83 554.41 L93.33 554.42 L94.83 554.42 L96.33 554.42 L97.83 554.42 L99.33 554.42 L100.83 554.42 L102.33 554.43 L103.83 554.43 L105.34 554.43 L106.84 554.43 L108.34 554.42 L109.84 554.42 L111.34 554.42 L112.84 554.42 L114.34 554.42 L115.84 554.42 L117.34 554.41 L118.84 554.41 L120.34 554.41 L121.84 554.40 L123.34 554.40 L124.84 554.39 L126.34 554.39 L127.84 554.38 L129.33 554.38 L130.83 554.37 L132.33 554.37 L133.83 554.36 L135.33 554.35 L136.83 554.35 L138.33 554.34 L139.83 554.33 L141.33 554.32 L142.83 554.32 L144.33 554.31 L145.83 554.30 L147.32 554.29 L148.82 554.28 L150.32 554.27 L151.82 554.26 L153.32 554.25 L154.82 554.24 L156.32 554.23 L157.81 554.22 L159.31 554.21 L160.81 554.20 L162.31 554.19 L163.81 554.18 L165.31 554.17 L166.80 554.16 L168.30 554.15 L169.80 554.14 L171.30 554.12 L172.80 554.11 L174.30 554.10 L175.79 554.09 L177.29 554.08 L178.79 554.06 L180.29 554.05 L181.78 554.04 L183.28 554.03 L184.78 554.01 L186.28 554.00 L187.78 553.99 L189.27 553.97 L190.77 553.96 L192.27 553.95 L193.77 553.93 L195.26 553.92 L196.76 553.91 L198.26 553.89 L199.76 553.88 L201.25 553.87 L202.75 553.85 L204.25 553.84 L205.75 553.82 L207.24 553.81 L208.74 553.80 L210.24 553.78 L211.74 553.77 L213.23 553.75 L214.73 553.74 L216.23 553.73 L217.72 553.71 L219.22 553.70 L220.72 553.69 L222.22 553.67 L223.71 553.66 L225.21 553.64 L226.71 553.63 L228.20 553.62 L229.70 553.60 L231.20 553.59 L232.70 553.58 L234.19 553.56 L235.69 553.55 L237.19 553.54 L238.68 553.52 L240.18 553.51 L241.68 553.50 L243.18 553.48 L244.67 553.47 L246.17 553.46 L247.67 553.45 L249.16 553.43 L250.66 553.42 L252.16 553.41 L253.65 553.40 L255.15 553.38 L256.65 553.37 L258.14 553.36 L259.64 553.35 L261.14 553.34 L262.64 553.33 L264.13 553.32 L265.63 553.30 L267.13 553.29 L268.62 553.28 L270.12 553.27 L271.62 553.26 L273.11 553.25 L274.61 553.24 L276.11 553.23 L277.61 553.22 L279.10 553.22 L280.60 553.21 L282.10 553.20 L283.59 553.19 L285.09 553.18 L286.59 553.17 L288.09 553.17 L289.58 553.16 L291.08 553.15 L292.58 553.15 L294.07 553.14 L295.57 553.13 L297.07 553.13 L298.57 553.12 L300.06 553.12 L301.56 553.11 L303.06 553.11 L304.55 553.10 L306.05 553.10 L307.55 553.09 L309.05 553.09 L310.54 553.09 L312.04 553.08 L313.54 553.08 L315.04 553.08 L316.53 553.08 L318.03 553.08 L319.53 553.08 L321.03 553.07 L322.52 553.07 L324.02 553.07 L325.52 553.07 L327.02 553.08 L328.51 553.08 L330.01 553.08 L331.51 553.08 L333.01 553.08 L334.51 553.09 L336.00 553.09 L337.50 553.09 L339.00 553.10 L340.50 553.10 L342.00 553.11 L343.49 553.11 L344.99 553.12 L346.49 553.12 L347.99 553.13 L349.49 553.14 L350.98 553.14 L352.48 553.15 L353.98 553.16 L355.48 553.16 L356.98 553.17 L358.48 553.18 L359.97 553.18 L361.47 553.19 L362.97 553.20 L364.47 553.20 L365.97 553.21 L367.47 553.21 L368.97 553.22 L370.47 553.22 L371.96 553.23 L373.46 553.23 L374.96 553.23 L376.46 553.24 L377.96 553.24 L379.46 553.24 L380.96 553.24 L382.46 553.24 L383.96 553.24 L385.46 553.24 L386.96 553.23 L388.46 553.23 L389.96 553.23 L391.46 553.22 L392.96 553.21 L394.46 553.20 L395.96 553.19 L397.46 553.18 L398.96 553.17 L400.46 553.16 L401.96 553.14 L403.46 553.13 L404.96 553.11 L406.46 553.09 L407.96 553.07 L409.46 553.05 L410.96 553.03 L412.46 553.00 L413.96 552.98 L415.46 552.95 L416.96 552.92 L418.46 552.88 L419.96 552.85 L421.46 552.81 L422.96 552.78 L424.47 552.74 L425.97 552.69 L427.47 552.65 L428.97 552.60 L430.47 552.55 L431.97 552.50 L433.47 552.45 L434.98 552.39 L436.48 552.34 L437.98 552.28 L439.48 552.21 L440.98 552.15 L442.49 552.08 L443.99 552.01 L445.49 551.94 L446.99 551.86 L448.49 551.78 L450.00 551.70 L451.50 551.62 L453.00 551.53 L454.51 551.44 L456.01 551.35 L457.51 551.26 L459.01 551.17 L460.52 551.08 L462.02 551.00 L463.52 550.91 L465.02 550.82 L466.53 550.74 L468.03 550.66 L469.53 550.59 L471.03 550.51 L472.53 550.45 L474.03 550.39 L475.54 550.33 L477.04 550.28 L478.54 550.24 L480.04 550.20 L481.54 550.18 L483.04 550.16 L484.53 550.15 L486.03 550.15 L487.53 550.16 L489.03 550.18 L490.53 550.21 L492.02 550.25 L493.52 550.31 L495.01 550.37 L496.51 550.43 L498.00 550.50 L499.50 550.58 L500.99 550.66 L502.48 550.73 L503.97 550.81 L505.47 550.88 L506.96 550.95 L508.44 551.01 L509.93 551.06 L511.42 551.10 L512.91 551.13 L514.39 551.15 L515.88 551.16 L517.36 551.15 L518.85 551.12 L520.33 551.07 L521.81 551.01 L523.29 550.91 L524.77 550.80 L526.25 550.66 L527.73 550.49 L529.20 550.30 L530.68 550.07 L532.15 549.82 L533.63 549.53 L535.10 549.20 L536.57 548.85 L538.04 548.48 L539.51 548.08 L540.98 547.66 L542.44 547.22 L543.91 546.77 L545.37 546.31 L546.83 545.85 L548.29 545.38 L549.75 544.91 L551.21 544.44 L552.66 543.99 L554.12 543.55 L555.57 543.13 L557.03 542.75 L558.48 542.41 L559.93 542.11 L561.38 541.87 L562.83 541.67 L564.28 541.49 L565.72 541.30 L567.17 541.09 L568.62 540.85 L570.06 540.54 L571.51 540.16 L572.95 539.71 L574.38 539.19 L575.80 538.63 L577.21 538.01 L578.59 537.35 L579.96 536.66 L581.30 535.95 L582.62 535.20 L583.91 534.44 L585.18 533.65 L586.42 532.84 L587.64 532.00 L588.85 531.14 L590.03 530.25 L591.19 529.34 L592.33 528.41 L593.46 527.46 L594.57 526.49 L595.66 525.49 L596.73 524.47 L597.79 523.43 L598.84 522.37 L599.87 521.29 L600.89 520.18 L601.89 519.06 L602.89 517.92 L603.87 516.75 L604.84 515.57 L605.81 514.37 L606.76 513.15 L607.69 511.91 L608.61 510.65 L609.50 509.38 L610.36 508.10 L611.19 506.79 L611.98 505.48 L612.73 504.15 L613.44 502.81 L614.10 501.46 L614.72 500.10 L615.30 498.72 L615.84 497.34 L616.35 495.95 L616.82 494.55 L617.27 493.15 L617.70 491.74 L618.11 490.33 L618.51 488.91 L618.89 487.48 L619.26 486.06 L619.63 484.63 L619.99 483.20 L620.34 481.76 L620.68 480.33 L621.01 478.89 L621.34 477.45 L621.65 476.00 L621.97 474.55 L622.27 473.11 L622.56 471.65 L622.85 470.20 L623.14 468.74 L623.41 467.29 L623.68 465.82 L623.94 464.36 L624.20 462.90 L624.45 461.43 L624.69 459.96 L624.93 458.49 L625.17 457.02 L625.39 455.55 L625.61 454.07 L625.83 452.60 L626.04 451.12 L626.25 449.64 L626.45 448.16 L626.65 446.67 L626.84 445.19 L627.03 443.70 L627.21 442.22 L627.39 440.73 L627.57 439.24 L627.74 437.75 L627.91 436.26 L628.08 434.77 L628.24 433.27 L628.40 431.78 L628.55 430.29 L628.71 428.79 L628.86 427.29 L629.01 425.80 L629.15 424.30 L629.29 422.80 L629.44 421.31 L629.57 419.81 L629.71 418.31 L629.85 416.81 L629.98 415.31 L630.11 413.81 L630.25 412.31 L630.38 410.81 L630.50 409.31 L630.63 407.81 L630.76 406.31 L630.89 404.81 L631.01 403.31 L631.14 401.81 L631.26 400.32 L631.39 398.82 L631.51 397.32 L631.63 395.82 L631.75 394.32 L631.87 392.82 L631.99 391.32 L632.11 389.82 L632.23 388.32 L632.34 386.82 L632.46 385.32 L632.57 383.82 L632.69 382.32 L632.80 380.83 L632.91 379.33 L633.03 377.83 L633.14 376.33 L633.25 374.83 L633.36 373.33 L633.47 371.83 L633.58 370.33 L633.68 368.83 L633.79 367.34 L633.90 365.84 L634.00 364.34 L634.10 362.84 L634.21 361.34 L634.31 359.84 L634.41 358.34 L634.52 356.85 L634.62 355.35 L634.72 353.85 L634.82 352.35 L634.92 350.85 L635.01 349.35 L635.11 347.86 L635.21 346.36 L635.30 344.86 L635.40 343.36 L635.49 341.86 L635.59 340.36 L635.68 338.87 L635.77 337.37 L635.87 335.87 L635.96 334.37 L636.05 332.87 L636.14 331.38 L636.23 329.88 L636.32 328.38 L636.41 326.88 L636.49 325.39 L636.58 323.89 L636.67 322.39 L636.75 320.89 L636.84 319.40 L636.92 317.90 L637.01 316.40 L637.09 314.90 L637.18 313.41 L637.26 311.91 L637.34 310.41 L637.42 308.92 L637.50 307.42 L637.58 305.92 L637.66 304.42 L637.74 302.93 L637.82 301.43 L637.90 299.93 L637.98 298.44 L638.05 296.94 L638.13 295.44 L638.21 293.95 L638.28 292.45 L638.36 290.95 L638.43 289.46 L638.51 287.96 L638.58 286.46 L638.65 284.97 L638.72 283.47 L638.80 281.98 L638.87 280.48 L638.94 278.98 L639.01 277.49 L639.08 275.99 L639.15 274.50 L639.22 273.00 L639.29 271.50 L639.36 270.01 L639.43 268.51 L639.49 267.02 L639.56 265.52 L639.63 264.03 L639.69 262.53 L639.76 261.03 L639.83 259.54 L639.89 258.04 L639.96 256.55 L640.02 255.05 L640.08 253.56 L640.15 252.06 L640.21 250.57 L640.27 249.07 L640.34 247.58 L640.40 246.08 L640.46 244.59 L640.52 243.09 L640.58 241.60 L640.64 240.11 L640.71 238.61 L640.77 237.12 L640.83 235.62 L640.88 234.13 L640.94 232.63 L641.00 231.14 L641.06 229.65 L641.12 228.15 L641.18 226.66 L641.24 225.16 L641.29 223.67 L641.35 222.18 L641.41 220.68 L641.46 219.19 L641.52 217.70 L641.58 216.20 L641.63 214.71 L641.69 213.22 L641.74 211.72 L641.80 210.23 L641.85 208.74 L641.91 207.24 L641.96 205.75 L642.02 204.26 L642.07 202.76 L642.13 201.27 L642.18 199.78 L642.23 198.28 L642.29 196.79 L642.34 195.30 L642.40 193.81 L642.45 192.31 L642.51 190.82 L642.56 189.33 L642.62 187.83 L642.67 186.34 L642.73 184.85 L642.79 183.36 L642.84 181.86 L642.90 180.37 L642.96 178.88 L643.01 177.38 L643.07 175.89 L643.13 174.40 L643.19 172.90 L643.25 171.41 L643.31 169.92 L643.37 168.42 L643.43 166.93 L643.49 165.44 L643.56 163.94 L643.62 162.45 L643.68 160.96 L643.75 159.46 L643.81 157.97 L643.88 156.47 L643.95 154.98 L644.01 153.48 L644.08 151.99 L644.15 150.49 L644.22 149.00 L644.30 147.50 L644.37 146.01 L644.44 144.51 L644.52 143.02 L644.59 141.52 L644.67 140.03 L644.75 138.53 L644.82 137.03 L644.90 135.54 L644.99 134.04 L645.07 132.54 L645.15 131.05 L645.24 129.55 L645.32 128.05 L645.41 126.56 L645.50 125.06 L645.59 123.56 L645.68 122.06 L645.78 120.56 L645.87 119.06 L645.97 117.57 L646.07 116.07 L646.16 114.57 L646.27 113.07 L646.37 111.57 L646.47 110.07 L646.58 108.57 L646.69 107.07 L646.79 105.56 L646.91 104.06 L647.02 102.56 L647.13 101.06 L647.24 99.56 L647.36 98.06 L647.47 96.55 L647.58 95.05 L647.68 93.55 L647.78 92.04 L647.88 90.54 L647.98 89.03 L648.06 87.53 L648.15 86.02 L648.22 84.52 L648.29 83.01 L648.35 81.51 L648.40 80.00 L648.45 78.49 L648.48 76.99 L648.50 75.48 L648.51 73.97 L648.51 72.46 L648.49 70.95 L648.47 69.44 L648.42 67.93 L648.37 66.42 L648.30 64.91 L648.22 63.40 L648.17 61.89 L648.20 60.38 L648.36 58.87 L648.68 57.39 L649.16 56.01 L649.82 54.79 L650.66 53.79 L651.66 53.21 L652.68 53.68 L653.52 55.10 L654.09 56.62 L654.44 58.14 L654.60 59.65 L654.62 61.15 L654.54 62.63 L654.41 64.10 L654.27 65.57 L654.15 67.04 L654.05 68.51 L653.98 69.98 L653.92 71.45 L653.89 72.92 L653.88 74.40 L653.88 75.88 L653.90 77.35 L653.94 78.83 L653.99 80.32 L654.05 81.80 L654.12 83.28 L654.21 84.77 L654.30 86.25 L654.40 87.74 L654.51 89.23 L654.62 90.72 L654.74 92.21 L654.85 93.70 L654.98 95.20 L655.10 96.69 L655.22 98.18 L655.34 99.68 L655.45 101.18 L655.56 102.67 L655.67 104.17 L655.77 105.67 L655.86 107.17 L655.94 108.66 L656.02 110.16 L656.09 111.66 L656.16 113.16 L656.22 114.66 L656.28 116.17 L656.33 117.67 L656.38 119.17 L656.43 120.67 L656.48 122.17 L656.52 123.67 L656.56 125.17 L656.60 126.68 L656.64 128.18 L656.69 129.68 L656.73 131.18 L656.77 132.68 L656.81 134.18 L656.85 135.69 L656.90 137.19 L656.94 138.69 L656.99 140.19 L657.03 141.69 L657.08 143.19 L657.13 144.69 L657.17 146.19 L657.22 147.69 L657.27 149.19 L657.32 150.69 L657.37 152.19 L657.42 153.69 L657.47 155.19 L657.52 156.69 L657.57 158.18 L657.62 159.68 L657.67 161.18 L657.72 162.68 L657.78 164.18 L657.83 165.68 L657.88 167.18 L657.94 168.68 L657.99 170.17 L658.05 171.67 L658.10 173.17 L658.16 174.67 L658.21 176.17 L658.27 177.66 L658.33 179.16 L658.38 180.66 L658.44 182.16 L658.50 183.65 L658.56 185.15 L658.61 186.65 L658.67 188.15 L658.73 189.64 L658.79 191.14 L658.85 192.64 L658.91 194.14 L658.97 195.63 L659.03 197.13 L659.08 198.63 L659.14 200.12 L659.20 201.62 L659.26 203.12 L659.32 204.61 L659.39 206.11 L659.45 207.61 L659.51 209.10 L659.57 210.60 L659.63 212.10 L659.69 213.59 L659.75 215.09 L659.81 216.59 L659.87 218.08 L659.93 219.58 L659.99 221.07 L660.05 222.57 L660.11 224.07 L660.18 225.56 L660.24 227.06 L660.30 228.56 L660.36 230.05 L660.42 231.55 L660.48 233.04 L660.54 234.54 L660.60 236.04 L660.66 237.53 L660.72 239.03 L660.78 240.53 L660.84 242.02 L660.90 243.52 L660.96 245.01 L661.02 246.51 L661.08 248.01 L661.14 249.50 L661.20 251.00 L661.26 252.50 L661.32 253.99 L661.38 255.49 L661.44 256.99 L661.49 258.48 L661.55 259.98 L661.61 261.48 L661.67 262.97 L661.72 264.47 L661.78 265.97 L661.84 267.46 L661.89 268.96 L661.95 270.46 L662.00 271.95 L662.06 273.45 L662.11 274.95 L662.17 276.44 L662.22 277.94 L662.28 279.44 L662.33 280.94 L662.38 282.43 L662.44 283.93 L662.49 285.43 L662.54 286.93 L662.59 288.42 L662.64 289.92 L662.69 291.42 L662.74 292.92 L662.79 294.42 L662.84 295.91 L662.89 297.41 L662.94 298.91 L662.98 300.41 L663.03 301.91 L663.08 303.41 L663.12 304.90 L663.17 306.40 L663.21 307.90 L663.25 309.40 L663.30 310.90 L663.34 312.40 L663.38 313.90 L663.42 315.40 L663.46 316.90 L663.50 318.40 L663.54 319.90 L663.58 321.40 L663.62 322.90 L663.66 324.40 L663.69 325.90 L663.73 327.40 L663.77 328.90 L663.80 330.40" stroke="#377eb8"/>
<path d="M67.80 554.30 L69.30 554.23 L70.80 554.17 L72.30 554.11 L73.80 554.05 L75.30 553.99 L76.80 553.93 L78.30 553.88 L79.80 553.83 L81.30 553.77 L82.80 553.72 L84.30 553.68 L85.80 553.63 L87.30 553.58 L88.80 553.54 L90.30 553.50 L91.80 553.46 L93.30 553.42 L94.80 553.38 L96.30 553.34 L97.80 553.31 L99.30 553.27 L100.80 553.24 L102.30 553.21 L103.80 553.18 L105.30 553.15 L106.80 553.12 L108.30 553.10 L109.80 553.07 L111.30 553.05 L112.80 553.03 L114.30 553.01 L115.80 552.99 L117.30 552.97 L118.79 552.95 L120.29 552.94 L121.79 552.92 L123.29 552.91 L124.79 552.89 L126.29 552.88 L127.79 552.87 L129.29 552.86 L130.79 552.85 L132.29 552.84 L133.79 552.84 L135.29 552.83 L136.79 552.83 L138.29 552.82 L139.79 552.82 L141.29 552.82 L142.78 552.82 L144.28 552.82 L145.78 552.82 L147.28 552.82 L148.78 552.82 L150.28 552.82 L151.78 552.83 L153.28 552.83 L154.78 552.84 L156.28 552.84 L157.78 552.85 L159.28 552.85 L160.77 552.86 L162.27 552.87 L163.77 552.88 L165.27 552.89 L166.77 552.90 L168.27 552.91 L169.77 552.92 L171.27 552.93 L172.77 552.94 L174.27 552.96 L175.76 552.97 L177.26 552.98 L178.76 553.00 L180.26 553.01 L181.76 553.03 L183.26 553.04 L184.76 553.06 L186.26 553.07 L187.76 553.09 L189.25 553.11 L190.75 553.12 L192.25 553.14 L193.75 553.16 L195.25 553.17 L196.75 553.19 L198.25 553.21 L199.75 553.23 L201.25 553.25 L202.74 553.26 L204.24 553.28 L205.74 553.30 L207.24 553.32 L208.74 553.34 L210.24 553.36 L211.74 553.38 L213.23 553.39 L214.73 553.41 L216.23 553.43 L217.73 553.45 L219.23 553.47 L220.73 553.49 L222.23 553.51 L223.73 553.52 L225.22 553.54 L226.72 553.56 L228.22 553.58 L229.72 553.60 L231.22 553.61 L232.72 553.63 L234.22 553.65 L235.71 553.66 L237.21 553.68 L238.71 553.70 L240.21 553.71 L241.71 553.73 L243.21 553.74 L244.71 553.76 L246.21 553.77 L247.70 553.79 L249.20 553.80 L250.70 553.81 L252.20 553.83 L253.70 553.84 L255.20 553.85 L256.70 553.86 L258.19 553.87 L259.69 553.88 L261.19 553.89 L262.69 553.90 L264.19 553.91 L265.69 553.91 L267.19 553.92 L268.68 553.93 L270.18 553.93 L271.68 553.94 L273.18 553.94 L274.68 553.94 L276.18 553.95 L277.68 553.95 L279.17 553.95 L280.67 553.95 L282.17 553.95 L283.67 553.95 L285.17 553.95 L286.67 553.94 L288.17 553.94 L289.66 553.93 L291.16 553.93 L292.66 553.92 L294.16 553.91 L295.66 553.90 L297.16 553.89 L298.66 553.88 L300.15 553.87 L301.65 553.86 L303.15 553.84 L304.65 553.83 L306.15 553.81 L307.65 553.79 L309.15 553.77 L310.64 553.75 L312.14 553.73 L313.64 553.71 L315.14 553.69 L316.64 553.66 L318.14 553.64 L319.64 553.61 L321.13 553.58 L322.63 553.55 L324.13 553.52 L325.63 553.49 L327.13 553.45 L328.63 553.42 L330.13 553.38 L331.63 553.34 L333.12 553.30 L334.62 553.26 L336.12 553.22 L337.62 553.17 L339.12 553.13 L340.62 553.08 L342.12 553.03 L343.61 552.98 L345.11 552.93 L346.61 552.88 L348.11 552.82 L349.61 552.77 L351.11 552.71 L352.61 552.65 L354.11 552.60 L355.61 552.54 L357.10 552.48 L358.60 552.42 L360.10 552.36 L361.60 552.30 L363.10 552.24 L364.60 552.18 L366.10 552.12 L367.60 552.06 L369.09 552.00 L370.59 551.94 L372.09 551.88 L373.59 551.82 L375.09 551.76 L376.59 551.70 L378.09 551.64 L379.59 551.59 L381.09 551.53 L382.59 551.47 L384.08 551.42 L385.58 551.37 L387.08 551.32 L388.58 551.27 L390.08 551.22 L391.58 551.17 L393.08 551.12 L394.58 551.08 L396.08 551.04 L397.58 551.00 L399.08 550.96 L400.57 550.92 L402.07 550.89 L403.57 550.86 L405.07 550.83 L406.57 550.80 L408.07 550.78 L409.57 550.76 L411.07 550.74 L412.57 550.72 L414.07 550.71 L415.57 550.70 L417.07 550.69 L418.57 550.69 L420.07 550.69 L421.56 550.69 L423.06 550.69 L424.56 550.70 L426.06 550.72 L427.56 550.74 L429.06 550.76 L430.56 550.78 L432.06 550.81 L433.56 550.84 L435.06 550.88 L436.56 550.92 L438.06 550.97 L439.56 551.02 L441.06 551.07 L442.56 551.13 L444.06 551.20 L445.56 551.27 L447.06 551.34 L448.56 551.42 L450.06 551.50 L451.56 551.59 L453.06 551.69 L454.56 551.78 L456.06 551.88 L457.56 551.97 L459.06 552.06 L460.56 552.15 L462.05 552.23 L463.55 552.30 L465.05 552.37 L466.55 552.42 L468.05 552.47 L469.55 552.49 L471.05 552.51 L472.55 552.51 L474.05 552.49 L475.55 552.46 L477.05 552.42 L478.55 552.36 L480.05 552.30 L481.55 552.22 L483.05 552.14 L484.55 552.05 L486.05 551.95 L487.55 551.84 L489.05 551.73 L490.55 551.61 L492.05 551.49 L493.55 551.36 L495.05 551.23 L496.54 551.10 L498.04 550.97 L499.54 550.84 L501.04 550.71 L502.53 550.58 L504.03 550.46 L505.53 550.34 L507.02 550.22 L508.52 550.11 L510.01 550.00 L511.51 549.90 L513.00 549.81 L514.49 549.72 L515.99 549.65 L517.48 549.59 L518.97 549.53 L520.46 549.49 L521.95 549.46 L523.44 549.44 L524.93 549.43 L526.42 549.42 L527.91 549.41 L529.40 549.40 L530.89 549.39 L532.37 549.37 L533.86 549.35 L535.35 549.31 L536.83 549.26 L538.32 549.19 L539.80 549.11 L541.28 549.01 L542.76 548.88 L544.24 548.73 L545.72 548.55 L547.20 548.33 L548.68 548.09 L550.16 547.81 L551.64 547.49 L553.11 547.13 L554.59 546.73 L556.06 546.28 L557.53 545.80 L558.99 545.27 L560.43 544.70 L561.86 544.11 L563.26 543.49 L564.64 542.84 L565.99 542.17 L567.33 541.48 L568.64 540.78 L569.94 540.06 L571.22 539.33 L572.49 538.58 L573.75 537.83 L575.01 537.07 L576.26 536.31 L577.51 535.55 L578.76 534.79 L580.01 534.03 L581.26 533.28 L582.53 532.53 L583.80 531.80 L585.08 531.07 L586.38 530.37 L587.69 529.67 L589.02 528.99 L590.36 528.31 L591.71 527.64 L593.07 526.96 L594.44 526.29 L595.82 525.61 L597.21 524.92 L598.60 524.22 L599.99 523.50 L601.39 522.76 L602.78 522.00 L604.17 521.21 L605.52 520.39 L606.83 519.54 L608.08 518.65 L609.26 517.73 L610.34 516.76 L611.34 515.75 L612.26 514.70 L613.10 513.61 L613.88 512.49 L614.58 511.33 L615.23 510.13 L615.82 508.91 L616.36 507.65 L616.85 506.37 L617.30 505.05 L617.72 503.71 L618.11 502.35 L618.47 500.96 L618.81 499.55 L619.13 498.12 L619.45 496.68 L619.76 495.21 L620.07 493.73 L620.38 492.24 L620.68 490.73 L620.99 489.21 L621.29 487.69 L621.59 486.15 L621.89 484.61 L622.18 483.06 L622.47 481.51 L622.76 479.96 L623.03 478.40 L623.30 476.85 L623.57 475.30 L623.82 473.76 L624.07 472.22 L624.31 470.68 L624.55 469.14 L624.78 467.61 L625.00 466.08 L625.21 464.55 L625.42 463.03 L625.62 461.51 L625.81 459.99 L626.00 458.48 L626.19 456.97 L626.36 455.46 L626.53 453.95 L626.70 452.44 L626.86 450.94 L627.02 449.44 L627.17 447.94 L627.32 446.45 L627.46 444.95 L627.60 443.46 L627.73 441.97 L627.86 440.48 L627.99 438.99 L628.11 437.50 L628.23 436.02 L628.35 434.53 L628.46 433.05 L628.57 431.57 L628.67 430.09 L628.78 428.60 L628.88 427.12 L628.98 425.64 L629.08 424.17 L629.17 422.69 L629.26 421.21 L629.36 419.73 L629.45 418.25 L629.54 416.78 L629.62 415.30 L629.71 413.82 L629.79 412.34 L629.88 410.86 L629.96 409.39 L630.05 407.91 L630.13 406.43 L630.21 404.95 L630.30 403.47 L630.38 401.98 L630.46 400.50 L630.54 399.02 L630.63 397.54 L630.71 396.05 L630.79 394.57 L630.87 393.09 L630.95 391.60 L631.03 390.12 L631.10 388.63 L631.18 387.15 L631.26 385.66 L631.34 384.18 L631.42 382.69 L631.49 381.20 L631.57 379.71 L631.65 378.23 L631.72 376.74 L631.80 375.25 L631.88 373.76 L631.95 372.27 L632.02 370.78 L632.10 369.29 L632.17 367.80 L632.25 366.31 L632.32 364.82 L632.39 363.32 L632.47 361.83 L632.54 360.34 L632.61 358.85 L632.68 357.35 L632.75 355.86 L632.82 354.37 L632.89 352.87 L632.96 351.38 L633.03 349.88 L633.10 348.39 L633.17 346.89 L633.24 345.40 L633.31 343.90 L633.38 342.41 L633.45 340.91 L633.52 339.41 L633.58 337.92 L633.65 336.42 L633.72 334.92 L633.78 333.43 L633.85 331.93 L633.92 330.43 L633.98 328.93 L634.05 327.43 L634.11 325.94 L634.18 324.44 L634.24 322.94 L634.30 321.44 L634.37 319.94 L634.43 318.44 L634.50 316.94 L634.56 315.44 L634.62 313.94 L634.68 312.44 L634.75 310.94 L634.81 309.44 L634.87 307.94 L634.93 306.43 L634.99 304.93 L635.05 303.43 L635.11 301.93 L635.17 300.43 L635.23 298.93 L635.29 297.42 L635.35 295.92 L635.41 294.42 L635.47 292.92 L635.53 291.41 L635.59 289.91 L635.65 288.41 L635.70 286.91 L635.76 285.40 L635.82 283.90 L635.88 282.40 L635.93 280.89 L635.99 279.39 L636.05 277.89 L636.10 276.39 L636.16 274.88 L636.22 273.38 L636.27 271.87 L636.33 270.37 L636.38 268.87 L636.44 267.36 L636.49 265.86 L636.55 264.36 L636.60 262.85 L636.65 261.35 L636.71 259.85 L636.76 258.34 L636.81 256.84 L636.87 255.33 L636.92 253.83 L636.97 252.33 L637.03 250.82 L637.08 249.32 L637.13 247.82 L637.18 246.31 L637.23 244.81 L637.29 243.31 L637.34 241.80 L637.39 240.30 L637.44 238.80 L637.49 237.29 L637.54 235.79 L637.59 234.29 L637.64 232.78 L637.69 231.28 L637.74 229.78 L637.79 228.27 L637.84 226.77 L637.89 225.27 L637.94 223.77 L637.99 222.26 L638.04 220.76 L638.09 219.26 L638.13 217.76 L638.18 216.26 L638.23 214.75 L638.28 213.25 L638.33 211.75 L638.38 210.25 L638.42 208.75 L638.47 207.25 L638.52 205.75 L638.56 204.24 L638.61 202.74 L638.66 201.24 L638.71 199.74 L638.75 198.24 L638.80 196.74 L638.85 195.24 L638.89 193.74 L638.94 192.25 L638.98 190.75 L639.03 189.25 L639.07 187.75 L639.12 186.25 L639.17 184.75 L639.21 183.26 L639.26 181.76 L639.30 180.26 L639.35 178.76 L639.39 177.27 L639.44 175.77 L639.48 174.27 L639.52 172.78 L639.57 171.28 L639.61 169.79 L639.66 168.29 L639.70 166.80 L639.75 165.30 L639.79 163.81 L639.83 162.31 L639.88 160.82 L639.92 159.32 L639.97 157.83 L640.01 156.34 L640.06 154.85 L640.10 153.35 L640.15 151.86 L640.19 150.37 L640.24 148.88 L640.29 147.38 L640.34 145.89 L640.39 144.40 L640.44 142.91 L640.49 141.42 L640.54 139.93 L640.60 138.43 L640.65 136.94 L640.71 135.45 L640.77 133.96 L640.83 132.47 L640.89 130.98 L640.95 129.49 L641.01 128.00 L641.08 126.51 L641.15 125.01 L641.22 123.52 L641.29 122.03 L641.37 120.54 L641.45 119.05 L641.53 117.56 L641.61 116.06 L641.69 114.57 L641.78 113.08 L641.87 111.59 L641.96 110.09 L642.06 108.60 L642.16 107.11 L642.26 105.62 L642.36 104.12 L642.47 102.63 L642.58 101.13 L642.69 99.64 L642.80 98.15 L642.91 96.65 L643.01 95.15 L643.12 93.66 L643.22 92.16 L643.32 90.67 L643.41 89.17 L643.50 87.67 L643.58 86.18 L643.65 84.68 L643.72 83.18 L643.78 81.68 L643.83 80.18 L643.86 78.68 L643.89 77.18 L643.90 75.68 L643.90 74.18 L643.89 72.68 L643.86 71.17 L643.82 69.67 L643.76 68.17 L643.68 66.66 L643.59 65.16 L643.48 63.65 L643.39 62.15 L643.36 60.66 L643.43 59.19 L643.63 57.74 L644.02 56.31 L644.62 54.92 L645.47 53.66 L646.54 53.17 L647.68 53.85 L648.50 54.94 L649.01 56.26 L649.30 57.74 L649.46 59.30 L649.58 60.88 L649.67 62.44 L649.74 64.00 L649.80 65.56 L649.84 67.10 L649.87 68.64 L649.88 70.17 L649.89 71.70 L649.89 73.21 L649.88 74.73 L649.86 76.24 L649.85 77.74 L649.83 79.24 L649.81 80.73 L649.79 82.22 L649.77 83.71 L649.76 85.19 L649.76 86.67 L649.76 88.14 L649.77 89.62 L649.79 91.09 L649.81 92.56 L649.83 94.03 L649.86 95.50 L649.89 96.97 L649.93 98.43 L649.96 99.90 L650.00 101.37 L650.04 102.83 L650.08 104.30 L650.12 105.77 L650.16 107.24 L650.20 108.71 L650.25 110.19 L650.29 111.66 L650.33 113.14 L650.37 114.61 L650.41 116.09 L650.45 117.57 L650.49 119.05 L650.53 120.54 L650.57 122.02 L650.62 123.50 L650.66 124.99 L650.70 126.47 L650.74 127.96 L650.78 129.45 L650.82 130.94 L650.86 132.43 L650.91 133.92 L650.95 135.41 L650.99 136.90 L651.03 138.40 L651.07 139.89 L651.11 141.39 L651.15 142.88 L651.20 144.38 L651.24 145.88 L651.28 147.37 L651.32 148.87 L651.36 150.37 L651.41 151.87 L651.45 153.37 L651.49 154.87 L651.53 156.37 L651.57 157.88 L651.62 159.38 L651.66 160.88 L651.70 162.38 L651.74 163.89 L651.79 165.39 L651.83 166.90 L651.87 168.40 L651.92 169.91 L651.96 171.41 L652.00 172.92 L652.04 174.42 L652.09 175.93 L652.13 177.44 L652.18 178.94 L652.22 180.45 L652.26 181.95 L652.31 183.46 L652.35 184.97 L652.39 186.47 L652.44 187.98 L652.48 189.49 L652.53 190.99 L652.57 192.50 L652.62 194.01 L652.66 195.51 L652.71 197.02 L652.75 198.52 L652.80 200.03 L652.84 201.54 L652.89 203.04 L652.93 204.55 L652.98 206.05 L653.03 207.55 L653.07 209.06 L653.12 210.56 L653.17 212.07 L653.21 213.57 L653.26 215.07 L653.31 216.58 L653.35 218.08 L653.40 219.58 L653.45 221.09 L653.50 222.59 L653.54 224.09 L653.59 225.59 L653.64 227.09 L653.69 228.59 L653.74 230.10 L653.79 231.60 L653.83 233.10 L653.88 234.60 L653.93 236.10 L653.98 237.60 L654.03 239.10 L654.08 240.60 L654.13 242.10 L654.18 243.60 L654.23 245.10 L654.28 246.60 L654.34 248.10 L654.39 249.60 L654.44 251.10 L654.49 252.60 L654.54 254.09 L654.60 255.59 L654.65 257.09 L654.70 258.59 L654.75 260.09 L654.81 261.59 L654.86 263.08 L654.91 264.58 L654.97 266.08 L655.02 267.58 L655.08 269.07 L655.13 270.57 L655.19 272.07 L655.24 273.57 L655.30 275.06 L655.35 276.56 L655.41 278.06 L655.47 279.55 L655.52 281.05 L655.58 282.54 L655.64 284.04 L655.70 285.54 L655.75 287.03 L655.81 288.53 L655.87 290.02 L655.93 291.52 L655.99 293.02 L656.05 294.51 L656.11 296.01 L656.17 297.50 L656.23 299.00 L656.29 300.49 L656.35 301.99 L656.41 303.48 L656.47 304.98 L656.53 306.47 L656.60 307.97 L656.66 309.46 L656.72 310.96 L656.78 312.45 L656.85 313.95 L656.91 315.44 L656.98 316.94 L657.04 318.43 L657.11 319.93 L657.17 321.42 L657.24 322.92 L657.30 324.41 L657.37 325.91 L657.44 327.40 L657.50 328.90 L657.57 330.39 L657.64 331.88 L657.71 333.38 L657.78 334.87 L657.85 336.37 L657.92 337.86 L657.98 339.36 L658.06 340.85 L658.13 342.34 L658.20 343.84 L658.27 345.33 L658.34 346.83 L658.41 348.32 L658.48 349.82 L658.56 351.31 L658.63 352.81 L658.71 354.30 L658.78 355.79 L658.85 357.29 L658.93 358.78 L659.00 360.28 L659.08 361.77 L659.16 363.27 L659.23 364.76 L659.31 366.26 L659.39 367.75 L659.47 369.25 L659.55 370.74 L659.62 372.24 L659.70 373.73 L659.78 375.23 L659.86 376.72 L659.95 378.22 L660.03 379.71 L660.11 381.21 L660.19 382.70 L660.27 384.20 L660.36 385.69 L660.44 387.19 L660.52 388.68 L660.61 390.18 L660.69 391.68 L660.78 393.17 L660.87 394.67 L660.95 396.16 L661.04 397.66 L661.13 399.16 L661.21 400.65 L661.30 402.15 L661.39 403.65 L661.48 405.14 L661.57 406.64 L661.66 408.14 L661.75 409.63 L661.85 411.13 L661.94 412.63 L662.03 414.12 L662.12 415.62 L662.22 417.12 L662.31 418.62 L662.41 420.11 L662.50 421.61 L662.60 423.11 L662.69 424.61 L662.79 426.11 L662.89 427.61 L662.99 429.10 L663.08 430.60 L663.18 432.10 L663.28 433.60 L663.38 435.10 L663.48 436.60 L663.58 438.10 L663.69 439.60 L663.79 441.10 L663.89 442.60 L664.00 444.10 L664.10 445.60" stroke="#984ea3"/>
</g>
<line x1="624.5" y1="30.65" x2="624.5" y2="579" stroke="#444" stroke-width="1.1" stroke-dasharray="2.7 2.703"/>
<line x1="38" y1="579.5" x2="694" y2="579.5" stroke="#000" stroke-width="2"/>
<line x1="67.6" y1="579" x2="67.6" y2="584.2" stroke="#000" stroke-width="1.6"/>
<text x="67.6" y="599" class="tk" text-anchor="middle" textLength="17.0" lengthAdjust="spacingAndGlyphs">85</text>
<line x1="266.4" y1="579" x2="266.4" y2="584.2" stroke="#000" stroke-width="1.6"/>
<text x="266.4" y="599" class="tk" text-anchor="middle" textLength="17.0" lengthAdjust="spacingAndGlyphs">90</text>
<line x1="465.2" y1="579" x2="465.2" y2="584.2" stroke="#000" stroke-width="1.6"/>
<text x="465.2" y="599" class="tk" text-anchor="middle" textLength="17.0" lengthAdjust="spacingAndGlyphs">95</text>
<line x1="624.4" y1="579" x2="624.4" y2="584.2" stroke="#000" stroke-width="1.6"/>
<text x="624.4" y="599" class="tk" text-anchor="middle" textLength="17.0" lengthAdjust="spacingAndGlyphs">99</text>
<line x1="664.0" y1="579" x2="664.0" y2="584.2" stroke="#000" stroke-width="1.6"/>
<text x="664.0" y="599" class="tk" text-anchor="middle" textLength="25.0" lengthAdjust="spacingAndGlyphs">100</text>

<line x1="82" y1="77.7" x2="105" y2="77.7" stroke="#4daf4a" stroke-opacity="0.8" stroke-width="5"/>
<text x="116.8" y="83.7" class="lg" textLength="58.3" lengthAdjust="spacingAndGlyphs">Person</text>
<line x1="82" y1="105.7" x2="105" y2="105.7" stroke="#ff7f00" stroke-opacity="0.8" stroke-width="5"/>
<text x="116.8" y="111.7" class="lg" textLength="56.1" lengthAdjust="spacingAndGlyphs">Mouse</text>
<line x1="82" y1="133.7" x2="105" y2="133.7" stroke="#e41a1c" stroke-opacity="0.8" stroke-width="5"/>
<text x="116.8" y="139.7" class="lg" textLength="242.6" lengthAdjust="spacingAndGlyphs">Mycobacterium tuberculosis</text>
<line x1="82" y1="161.7" x2="105" y2="161.7" stroke="#377eb8" stroke-opacity="0.8" stroke-width="5"/>
<text x="116.8" y="167.7" class="lg" textLength="132.7" lengthAdjust="spacingAndGlyphs">Escherichia coli</text>
<line x1="82" y1="189.7" x2="105" y2="189.7" stroke="#984ea3" stroke-opacity="0.8" stroke-width="5"/>
<text x="116.8" y="195.7" class="lg" textLength="219.2" lengthAdjust="spacingAndGlyphs">Pseudomonas aeruginosa</text>

<text x="319.5" y="618" class="ax" textLength="112" lengthAdjust="spacingAndGlyphs">Accuracy (%)</text>
</svg>
</body></html>
